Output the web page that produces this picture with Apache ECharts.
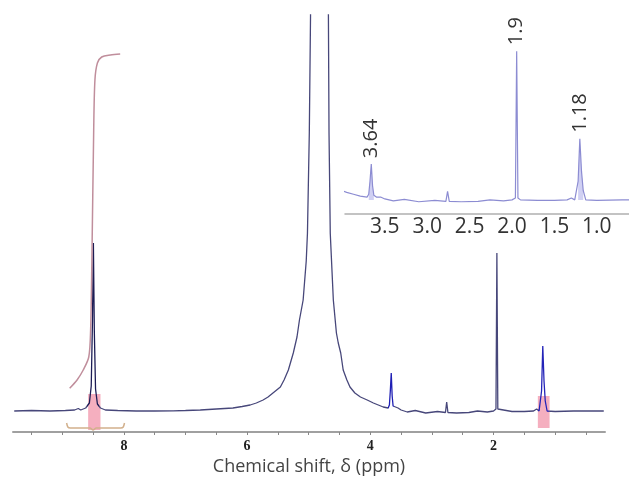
<!DOCTYPE html>
<html><head><meta charset="utf-8">
<script src="https://cdn.jsdelivr.net/npm/echarts@6/dist/echarts.min.js"></script>
<style>html,body{margin:0;padding:0;background:#fff}#c{width:629px;height:481px}</style>
</head><body><div id="c"></div>
<script>
// Main 1H NMR spectrum (chemical shift in ppm, intensity in arbitrary units)
const shiftPpm = [9.78,9.5,9.2,8.95,8.8,8.74,8.70,8.62,8.56,8.53,8.51,8.495,8.48,8.46,8.43,8.38,8.3,8.1,7.8,7.5,7.2,7.0,6.76,6.5,6.23,6.08,5.95,5.85,5.74,5.66,5.58,5.52,5.46,5.40,5.33,5.25,5.19,5.15,5.09,5.04,5.02,4.99,4.97,4.95,4.90,4.83,4.76,4.71,4.68,4.67,4.65,4.60,4.55,4.52,4.48,4.44,4.38,4.33,4.25,4.16,4.05,3.95,3.87,3.79,3.71,3.69,3.675,3.66,3.645,3.63,3.6,3.55,3.5,3.4,3.27,3.25,3.1,2.91,2.89,2.78,2.76,2.74,2.6,2.4,2.26,2.24,2.1,2.0,1.96,1.945,1.93,1.9,1.7,1.5,1.35,1.3,1.26,1.22,1.20,1.18,1.16,1.13,1.0,0.7,0.4,0.21];
const intensity = [0.0,0.005,0.0,0.005,0.01,0.025,0.01,0.03,0.08,0.25,0.9,1.68,0.8,0.22,0.07,0.03,0.01,0.005,0.0,0.0,0.002,0.005,0.01,0.02,0.03,0.045,0.06,0.08,0.11,0.14,0.18,0.21,0.24,0.31,0.41,0.58,0.74,0.91,1.11,1.5,1.78,2.78,3.96,6,15,40,15,6,3.96,2.78,1.78,1.11,0.78,0.68,0.58,0.41,0.31,0.24,0.18,0.14,0.11,0.08,0.06,0.04,0.03,0.06,0.2,0.38,0.15,0.05,0.03,0.03,0.01,-0.01,0.005,-0.015,-0.02,-0.005,-0.015,-0.015,0.09,-0.015,-0.02,-0.015,0.0,-0.015,-0.01,0.0,0.02,1.58,0.02,0.0,-0.005,-0.005,0.0,0.02,0.0,0.2,0.65,0.3,0.1,0.0,-0.005,0.0,0.0,0.0];

// Integral trace over the 8.5 ppm signal
const integralPpm = [8.88,8.76,8.66,8.57,8.54,8.52,8.49,8.47,8.43,8.36,8.22,8.06];
const integralVal = [0.227,0.31,0.41,0.54,0.81,1.48,2.81,3.31,3.48,3.54,3.56,3.57];

// Integration bracket under the 8.5 ppm signal
const bracePpm = [8.93,8.91,8.87,8.55,8.50,8.45,8.05,8.01,7.99];
const braceVal = [-0.12,-0.16,-0.17,-0.17,-0.19,-0.17,-0.17,-0.16,-0.12];

// Integration region markers [from, to] ppm, [low, high] intensity
const integRegions = [[8.58,8.38,-0.19,0.17],[1.28,1.09,-0.17,0.15]];

// Axis ticks
const mainTicks = [9.5,9,8.5,8,7.5,7,6.5,6,5.5,5,4.5,4,3.5,3,2.5,2,1.5,1,0.5];
const mainLabels = [8,6,4,2];
const insetLabels = [3.5,3.0,2.5,2.0,1.5,1.0];

// Inset peak annotations
const peakPpm = [3.66,1.945,1.20];
const peakVal = [0.38,1.58,0.65];
const peakText = ['3.64','1.9','1.18'];
const insetFillRanges = [[3.63,3.69],[1.16,1.22]];

const pair = (a,b)=>a.map((v,i)=>[v,b[i]]);
const mainData = pair(shiftPpm, intensity);

const fillSeries = insetFillRanges.map(r=>({
  type:'line', xAxisIndex:1, yAxisIndex:1, symbol:'none', silent:true,
  data: mainData.filter(d=>d[0]>=r[0]&&d[0]<=r[1]),
  lineStyle:{width:0}, areaStyle:{color:'#c4c4f0', opacity:0.8}, z:2
}));

const chart = echarts.init(document.getElementById('c'));
chart.setOption({
  animation:false,
  backgroundColor:'#fff',
  grid:[
    {left:13, right:24, top:15, bottom:49},
    {left:345, right:0, top:40, bottom:267}
  ],
  xAxis:[
    {type:'value', gridIndex:0, min:0.19, max:9.8, inverse:true,
     axisLine:{onZero:false, lineStyle:{color:'#a0a0a0', width:2}},
     axisTick:{show:true, customValues:mainTicks, length:3, inside:false, lineStyle:{color:'#888', width:1}},
     axisLabel:{customValues:mainLabels, margin:7, color:'#222', fontFamily:'Liberation Serif', fontWeight:'bold', fontSize:14},
     splitLine:{show:false},
     name:'Chemical shift, δ (ppm)', nameLocation:'middle', nameGap:25,
     nameTextStyle:{fontFamily:'Open Sans', fontSize:18, color:'#444'}
    },
    {type:'value', gridIndex:1, min:0.62, max:3.97, inverse:true,
     axisLine:{onZero:false, lineStyle:{color:'#b0b0b0', width:1.5}},
     axisTick:{show:false},
     axisLabel:{customValues:insetLabels, margin:3, color:'#333', fontFamily:'Open Sans', fontSize:21,
       formatter:v=>v.toFixed(1)},
     splitLine:{show:false}
    }
  ],
  yAxis:[
    {type:'value', gridIndex:0, min:-0.21, max:3.96, show:false},
    {type:'value', gridIndex:1, min:-0.15, max:1.7, show:false}
  ],
  visualMap:[{
    show:false, type:'piecewise', seriesIndex:0, dimension:0,
    pieces:[
      {gte:8.40, lte:8.60, color:'#1c1c55'},
      {gte:3.62, lte:3.71, color:'#1e1eb4'},
      {gte:1.10, lte:1.27, color:'#2424b8'}
    ],
    outOfRange:{color:'#47477a'}
  }],
  series:[
    {type:'line', name:'spectrum', xAxisIndex:0, yAxisIndex:0, symbol:'none', data:mainData,
     lineStyle:{width:1.3}, z:3, clip:true,
     markArea:{silent:true, itemStyle:{color:'rgba(236,96,128,0.5)'},
       data:integRegions.map(r=>[{coord:[r[0],r[2]]},{coord:[r[1],r[3]]}])}
    },
    {type:'line', name:'integral', xAxisIndex:0, yAxisIndex:0, symbol:'none', smooth:0.3,
     data:pair(integralPpm, integralVal), lineStyle:{color:'#c08e9c', width:1.5}, z:4},
    {type:'line', name:'bracket', xAxisIndex:0, yAxisIndex:0, symbol:'none', smooth:0.2,
     data:pair(bracePpm, braceVal), lineStyle:{color:'#d2b08c', width:1.5}, z:4},
    {type:'line', name:'inset', xAxisIndex:1, yAxisIndex:1, symbol:'none', data:mainData, clip:true,
     lineStyle:{color:'#8c8cd2', width:1.2}, z:3,
     markPoint:{symbol:'circle', symbolSize:0, silent:true,
       data:peakPpm.map((p,i)=>({name:peakText[i], coord:[p, peakVal[i]]})),
       label:{show:true, formatter:'{b}', rotate:90, position:'top', distance:6, align:'left', verticalAlign:'middle',
         color:'#333', fontFamily:'Open Sans', fontSize:20}}
    },
    ...fillSeries
  ]
});
</script></body></html>
